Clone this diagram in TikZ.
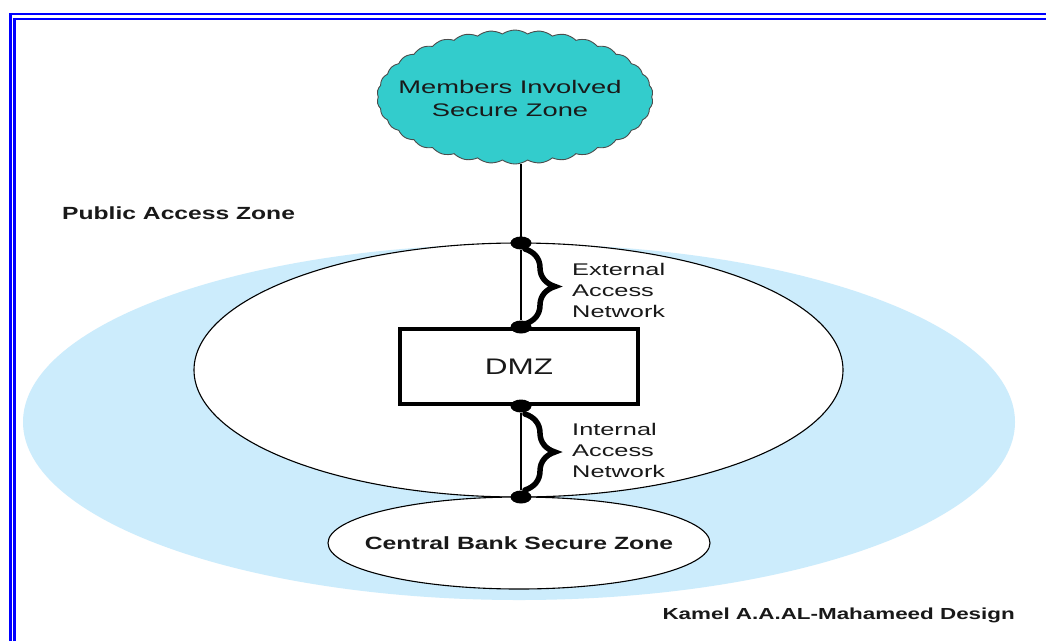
\documentclass[tikz,border=0pt]{standalone}
\usepackage{fontspec}
\usetikzlibrary{shapes.geometric,shapes.symbols,decorations.pathreplacing}
% Arial-like faces, widened as in the drawing
\newfontfamily\widefont[FakeStretch=1.5]{Liberation Sans}
\newfontfamily\bfwidefont[FakeStretch=1.4]{Liberation Sans}

\definecolor{zoneblue}{RGB}{204,236,252}
\definecolor{cloudcyan}{RGB}{51,204,204}
\definecolor{frameblue}{RGB}{0,0,255}
\definecolor{inktext}{RGB}{25,25,25}

\tikzset{
  frameline/.style={draw=frameblue, line width=2.6pt},
  zoneoval/.style={ellipse, inner sep=0pt, draw=black, line width=1.1pt, fill=white},
  junction/.style={ellipse, fill=black, inner sep=0pt, minimum width=21pt, minimum height=13pt},
  wire/.style={draw=black, line width=1.3pt},
  bracket/.style={draw=black, line width=5.5pt, line cap=round,
    decorate, decoration={brace, amplitude=30pt}},
  netlabel/.style={inner sep=0pt, anchor=base west, text=inktext,
    font=\widefont\fontsize{16.9pt}{21pt}\selectfont},
  zonelabel/.style={inner sep=0pt, text=inktext,
    font=\bfwidefont\bfseries\fontsize{17.6pt}{21pt}\selectfont},
}

\begin{document}
\begin{tikzpicture}[x=1pt, y=-1pt]
  \useasboundingbox (0,0) rectangle (1046,641);
  \fill[white] (0,0) rectangle (1046,641);

  % double frame along the top and left edges
  \draw[frameline] (10.3,641) -- (10.3,13.8) -- (1046,13.8);
  \draw[frameline] (14.7,641) -- (14.7,18.8) -- (1046,18.8);

  % public access zone and the bank's inner perimeter
  \node[ellipse, inner sep=0pt, fill=zoneblue, minimum width=992pt, minimum height=356pt]
    (public) at (519,422) {};
  \node[zoneoval, minimum width=649pt, minimum height=254pt] (perimeter) at (518.5,370) {};
  \node[zoneoval, minimum width=382pt, minimum height=92pt, inner xsep=-25pt, text=inktext,
    font=\bfwidefont\bfseries\fontsize{17.7pt}{21pt}\selectfont]
    (bank) at (519,543) {Central Bank Secure Zone};

  % members' zone
  \node[cloud, cloud puffs=34, cloud puff arc=70, cloud ignores aspect,
    minimum width=276pt, minimum height=134pt, inner sep=0pt,
    fill=cloudcyan, draw=black!70, line width=0.9pt]
    (members) at (515,97) {};
  \node[align=center, inner sep=0pt, text=inktext,
    font=\widefont\fontsize{18.2pt}{23pt}\selectfont]
    (memberstext) at (510,98) {Members Involved\\Secure Zone};

  % demilitarised zone
  \node[draw=black, line width=4pt, fill=white, minimum width=238pt, minimum height=75pt,
    inner sep=0pt, text=inktext, font=\bfwidefont\fontsize{22.5pt}{25pt}\selectfont]
    (dmz) at (519,366.5) {DMZ};

  % junction points on the link
  \node[junction] (j1) at (521,243) {};
  \node[junction] (j2) at (521,327) {};
  \node[junction] (j3) at (521,406) {};
  \node[junction] (j4) at (521,497) {};

  % link from the members' zone down to the bank
  \draw[wire] (j1.center) -- (j1.center |- members.south);
  \draw[wire] (j1) -- (j2);
  \draw[wire] (j3) -- (j4);

  % braces marking the two access networks
  \coordinate (extTop) at (525,249);
  \coordinate (extBot) at (525,324);
  \coordinate (intTop) at (525,414);
  \coordinate (intBot) at (525,490);
  \draw[bracket] (extTop) -- (extBot);
  \draw[bracket] (intTop) -- (intBot);

  \node[netlabel] (ext1) at (572,275) {External};
  \node[netlabel] (ext2) at (572,296) {Access};
  \node[netlabel] (ext3) at (572,317) {Network};
  \node[netlabel] (int1) at (572,435) {Internal};
  \node[netlabel] (int2) at (572,456) {Access};
  \node[netlabel] (int3) at (572,477) {Network};

  % zone captions
  \node[zonelabel, anchor=base west] (pubcap) at (62,219) {Public Access Zone};
  \node[zonelabel, anchor=base east, font=\bfwidefont\bfseries\fontsize{16pt}{19pt}\selectfont]
    (credit) at (1015,619) {Kamel A.A.AL-Mahameed Design};
\end{tikzpicture}
\end{document}
